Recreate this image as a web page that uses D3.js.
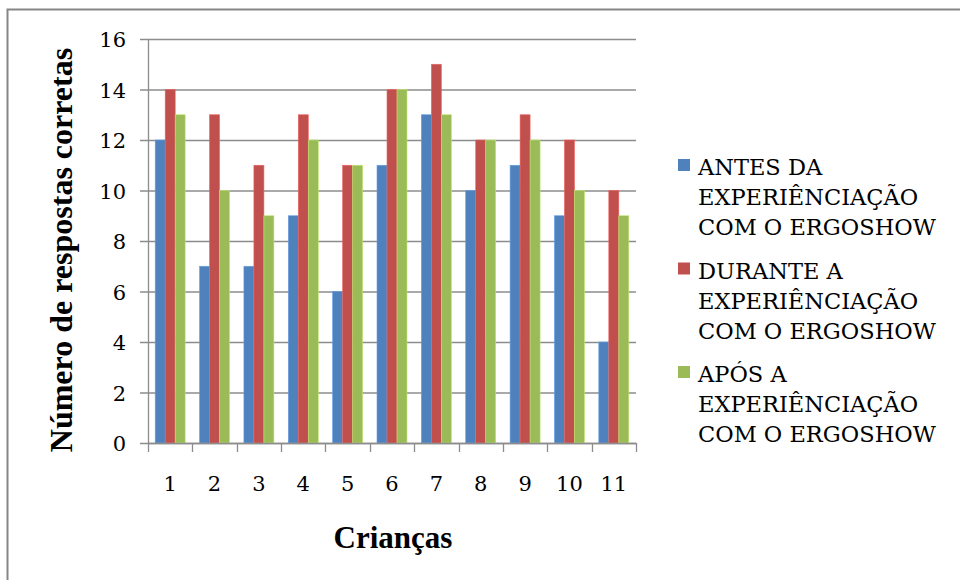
<!DOCTYPE html>
<html>
<head>
<meta charset="utf-8">
<script src="https://cdn.jsdelivr.net/npm/d3@7"></script>
<style>
  body { margin: 0; background: #fff; }
</style>
</head>
<body>
<div id="chart"></div>
<script>
const criancas = ["1", "2", "3", "4", "5", "6", "7", "8", "9", "10", "11"];
const antes = [12, 7, 7, 9, 6, 11, 13, 10, 11, 9, 4];
const durante = [14, 13, 11, 13, 11, 14, 15, 12, 13, 12, 10];
const apos = [13, 10, 9, 12, 11, 14, 13, 12, 12, 10, 9];
const seriesNames = [
  ["ANTES DA", "EXPERIÊNCIAÇÃO", "COM O ERGOSHOW"],
  ["DURANTE A", "EXPERIÊNCIAÇÃO", "COM O ERGOSHOW"],
  ["APÓS A", "EXPERIÊNCIAÇÃO", "COM O ERGOSHOW"]
];
const yTicks = [0, 2, 4, 6, 8, 10, 12, 14, 16];
const colors = ["#4F81BD", "#C0504D", "#9BBB59"];

// regular Liberation Serif is not available here, DejaVu Serif stands in
const FONT = "'DejaVu Serif', serif";
const FONT_BOLD = "'Liberation Serif', 'Times New Roman', serif";
const width = 960, height = 580;
const plot = {left: 148, right: 636, top: 39, bottom: 443};

const svg = d3.select("#chart").append("svg")
    .attr("width", width)
    .attr("height", height);

// outer frame
svg.append("rect")
    .attr("x", 7.5).attr("y", 9.5)
    .attr("width", width + 20).attr("height", height + 20)
    .attr("fill", "none")
    .attr("stroke", "#868686")
    .attr("stroke-width", 2);

const x = d3.scaleBand().domain(criancas).range([plot.left, plot.right]);
const y = d3.scaleLinear().domain([0, 16]).range([plot.bottom, plot.top]);
const barW = 10;
const offset = (x.bandwidth() - barW * 3) / 2;

// gridlines + y ticks
svg.append("g").selectAll("line")
    .data(yTicks)
    .enter().append("line")
    .attr("x1", plot.left - 8).attr("x2", plot.right)
    .attr("y1", d => y(d) + 0.5).attr("y2", d => y(d) + 0.5)
    .attr("stroke", "#8c8c8c").attr("stroke-width", 1.3);

svg.append("g").selectAll("text")
    .data(yTicks)
    .enter().append("text")
    .attr("x", 126).attr("y", d => y(d) + 8)
    .attr("text-anchor", "end")
    .style("font-family", FONT)
    .attr("font-size", 21)
    .text(d => d);

// bars
const all = [antes, durante, apos];
all.forEach((vals, si) => {
  svg.append("g").selectAll("rect")
      .data(vals)
      .enter().append("rect")
      .attr("x", (d, i) => x(criancas[i]) + offset + si * barW)
      .attr("y", d => y(d))
      .attr("width", barW)
      .attr("height", d => y(0) - y(d))
      .attr("fill", colors[si])
      .attr("stroke", d3.color(colors[si]).brighter(0.6))
      .attr("stroke-width", 0.6);
});

// axes lines
svg.append("line")
    .attr("x1", plot.left + 0.5).attr("x2", plot.left + 0.5)
    .attr("y1", plot.top).attr("y2", plot.bottom)
    .attr("stroke", "#8c8c8c").attr("stroke-width", 1.3);
svg.append("line")
    .attr("x1", plot.left).attr("x2", plot.right)
    .attr("y1", plot.bottom + 0.5).attr("y2", plot.bottom + 0.5)
    .attr("stroke", "#8c8c8c").attr("stroke-width", 1.3);

// x ticks at band boundaries
const bounds = criancas.map(c => x(c)).concat([plot.right]);
svg.append("g").selectAll("line")
    .data(bounds)
    .enter().append("line")
    .attr("x1", d => Math.round(d) + 0.5).attr("x2", d => Math.round(d) + 0.5)
    .attr("y1", plot.bottom).attr("y2", plot.bottom + 9)
    .attr("stroke", "#8c8c8c").attr("stroke-width", 1.3);

svg.append("g").selectAll("text")
    .data(criancas)
    .enter().append("text")
    .attr("x", d => x(d) + x.bandwidth() / 2)
    .attr("y", 491)
    .attr("text-anchor", "middle")
    .style("font-family", FONT)
    .attr("font-size", 21)
    .text(d => d);

// axis titles
svg.append("text")
    .attr("x", 393).attr("y", 548)
    .attr("text-anchor", "middle")
    .style("font-family", FONT_BOLD)
    .attr("font-size", 31)
    .attr("font-weight", "bold")
    .text("Crianças");

svg.append("text")
    .attr("transform", "translate(72,250) rotate(-90)")
    .attr("text-anchor", "middle")
    .style("font-family", FONT_BOLD)
    .attr("font-size", 32)
    .attr("font-weight", "bold")
    .text("Número de respostas corretas");

// legend
const legend = svg.append("g");
seriesNames.forEach((lines, i) => {
  const base = 175 + i * 103.5;
  legend.append("rect")
      .attr("x", 678).attr("y", base - 16)
      .attr("width", 12).attr("height", 12)
      .attr("fill", colors[i]);
  lines.forEach((ln, j) => {
    legend.append("text")
        .attr("x", 698).attr("y", base + j * 30)
        .style("font-family", FONT)
        .attr("font-size", 22.5)
        .text(ln);
  });
});
</script>
</body>
</html>
